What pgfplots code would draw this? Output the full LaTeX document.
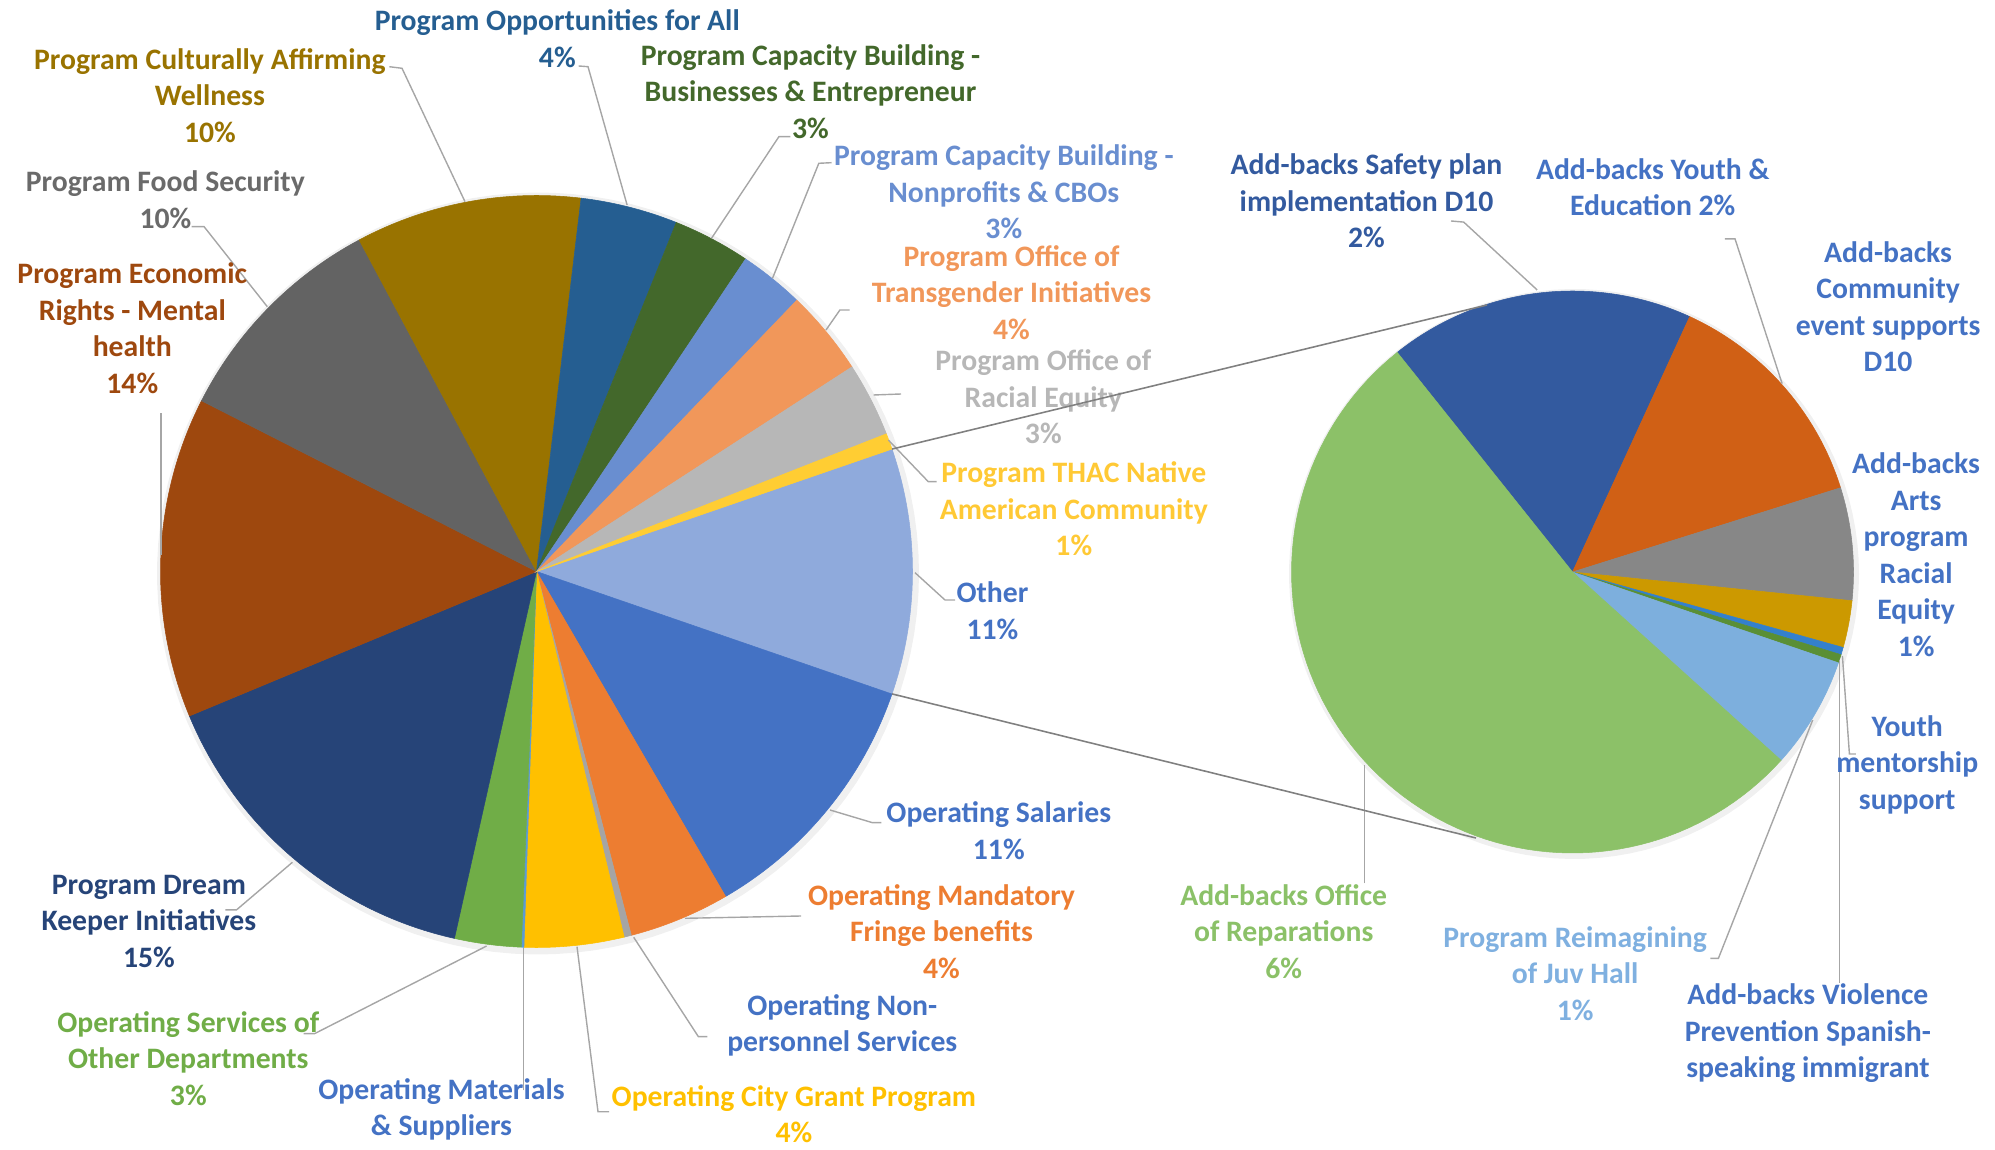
\documentclass[border=0pt]{standalone}
\usepackage{pgfplots}
\usepackage{pgfplotstable}
\pgfplotsset{compat=1.18}
\usepackage{fontspec}
\setmainfont{Carlito}

% main pie colours
\definecolor{cOther}{HTML}{8FAADC}
\definecolor{cSal}{HTML}{4472C4}
\definecolor{cFringe}{HTML}{ED7D31}
\definecolor{cNonPers}{HTML}{A5A5A5}
\definecolor{cGrant}{HTML}{FFC000}
\definecolor{cMat}{HTML}{5B9BD5}
\definecolor{cServ}{HTML}{70AD47}
\definecolor{cDream}{HTML}{264478}
\definecolor{cEcon}{HTML}{9E480E}
\definecolor{cFood}{HTML}{636363}
\definecolor{cCult}{HTML}{997300}
\definecolor{cOpp}{HTML}{255E91}
\definecolor{cCapBus}{HTML}{43682B}
\definecolor{cCapNP}{HTML}{698ED0}
\definecolor{cTrans}{HTML}{F1975A}
\definecolor{cRacial}{HTML}{B7B7B7}
\definecolor{cTHAC}{HTML}{FFCD33}
% second pie colours
\definecolor{cSafety}{HTML}{335A9F}
\definecolor{cYouth}{HTML}{D06015}
\definecolor{cComm}{HTML}{878787}
\definecolor{cArts}{HTML}{CC9900}
\definecolor{cMentor}{HTML}{3480CC}
\definecolor{cViol}{HTML}{5A8F35}
\definecolor{cReimag}{HTML}{7DAFDD}
\definecolor{cRepar}{HTML}{8CC168}
% label colours
\definecolor{lBlue}{HTML}{4472C4}
\definecolor{lTHAC}{HTML}{FFC935}
\definecolor{lFood}{HTML}{6A6A6A}
\definecolor{lReimag}{HTML}{7FB0E0}
\definecolor{lRepar}{HTML}{8BC168}
\definecolor{leadgray}{HTML}{A6A6A6}

\pgfplotstableread{
name value col
Other 10.56 cOther
Salaries 11.33 cSal
Fringe 4.33 cFringe
NonPersonnel 0.31 cNonPers
CityGrant 4.28 cGrant
Materials 0.11 cMat
Services 2.86 cServ
DreamKeeper 15.22 cDream
EconomicRights 13.78 cEcon
FoodSecurity 9.68 cFood
Culturally 9.71 cCult
Opportunities 4.17 cOpp
CapBusinesses 3.32 cCapBus
CapNonprofits 2.79 cCapNP
Transgender 3.67 cTrans
RacialEquity 3.19 cRacial
THAC 0.69 cTHAC
}\maindata

\pgfplotstableread{
name value col
SafetyPlan 1.855 cSafety
YouthEducation 1.405 cYouth
CommunityEvent 0.684 cComm
ArtsRacialEquity 0.285 cArts
YouthMentorship 0.045 cMentor
ViolencePrevention 0.051 cViol
ReimaginingJuvHall 0.681 cReimag
Reparations 5.553 cRepar
}\otherdata

% #1 table, #2 cx, #3 cy, #4 radius, #5 start angle (deg, counter-clockwise from east; slices run clockwise)
\newcommand\drawpie[5]{%
  \pgfplotstablegetrowsof{#1}\pgfmathtruncatemacro\pieN{\pgfplotsretval-1}%
  \def\piesum{0}%
  \pgfplotsforeachungrouped \i in {0,...,\pieN}{%
    \pgfplotstablegetelem{\i}{value}\of{#1}%
    \pgfmathsetmacro\piesum{\piesum+\pgfplotsretval}}%
  \def\pieang{#5}%
  \pgfplotsforeachungrouped \i in {0,...,\pieN}{%
    \pgfplotstablegetelem{\i}{value}\of{#1}\let\pieval\pgfplotsretval
    \pgfplotstablegetelem{\i}{col}\of{#1}\let\piecol\pgfplotsretval
    \pgfmathsetmacro\pieangb{\pieang-360*\pieval/\piesum}%
    \edef\piecmd{\noexpand\addplot[draw=\piecol,line width=0.15pt,fill=\piecol,domain=\pieangb:\pieang,samples=90,variable=\noexpand\t] ({#2+#4*cos(\noexpand\t)},{#3-#4*sin(\noexpand\t)}) -- (axis cs:#2,#3) -- cycle;}%
    \piecmd
    \global\let\pieang\pieangb
  }%
}

\begin{document}
\begin{tikzpicture}[
  lab/.style={align=center, inner sep=0pt, font=\fontsize{8.45}{10.4}\selectfont\bfseries},
]
\begin{axis}[
  width=19.95cm, height=11.5cm, scale only axis,
  xmin=0, xmax=1995, ymin=0, ymax=1150, y dir=reverse,
  hide axis, clip=false,
  leader/.style={leadgray, line width=0.4pt, mark=none},
]
\addplot[draw=none] coordinates {(0,0) (1995,1150)};

% soft shadows
\addplot[draw=none, fill=black, fill opacity=0.06, domain=0:360, samples=120, variable=\t] ({538+381*cos(\t)},{573.5-381*sin(\t)}) -- cycle;
\addplot[draw=none, fill=black, fill opacity=0.06, domain=0:360, samples=120, variable=\t] ({1574+285*cos(\t)},{574-285*sin(\t)}) -- cycle;

\drawpie{\maindata}{536.5}{571.5}{376}{19.0}
\drawpie{\otherdata}{1572.5}{572}{281}{128.6}

% leader lines (main pie)
\addplot[leader] coordinates {(578.7,66) (588,66.7) (627.1,205)};
\addplot[leader] coordinates {(389.3,66.7) (402,68.3) (465,201.7)};
\addplot[leader] coordinates {(790.3,136.7) (778.9,136.7) (711.5,238.3)};
\addplot[leader] coordinates {(831.5,162.7) (818.8,163.3) (772.5,278.3)};
\addplot[leader] coordinates {(849.6,310) (839.9,310) (826,330)};
\addplot[leader] coordinates {(901,394) (873.6,395)};
\addplot[leader] coordinates {(936.7,481.7) (928.3,481.7) (888.3,440)};
\addplot[leader] coordinates {(955,600) (945,600) (915,572.7)};
\addplot[leader] coordinates {(881.4,822.7) (872.5,822.7) (830,810)};
\addplot[leader] coordinates {(801,916) (685,918.3)};
\addplot[leader] coordinates {(707.3,1036.7) (698.4,1036.7) (633.7,937.3)};
\addplot[leader] coordinates {(609,1111.7) (598,1111.7) (577,946.7)};
\addplot[leader] coordinates {(523.2,1090.4) (523.2,948.4)};
\addplot[leader] coordinates {(303.6,1033.6) (314.7,1033.6) (486.6,946)};
\addplot[leader] coordinates {(225.4,909.8) (236.6,909.8) (292.4,862.3)};
\addplot[leader] coordinates {(161.2,413.3) (161.2,555)};
\addplot[leader] coordinates {(191.5,226.7) (204.1,226.7) (267.3,306.7)};
% leader lines (second pie)
\addplot[leader] coordinates {(1451,221) (1463.7,222.1) (1537.2,290)};
\addplot[leader] coordinates {(1724.8,238.9) (1735,238.9) (1782.1,383.6)};
\addplot[leader] coordinates {(1855.8,754) (1849.4,754) (1842.4,656)};
\addplot[leader] coordinates {(1839.7,983) (1839.7,660)};
\addplot[leader] coordinates {(1710.3,958.3) (1718.4,958.3) (1812.7,720)};
\addplot[leader] coordinates {(1364.4,883.3) (1364.4,765)};

% labels main pie
\node[lab, text=cOpp] at (axis cs:557.3,38.8) {Program Opportunities for All\\4\%};
\node[lab, text=cCult] at (axis cs:209.9,95.4) {Program Culturally Affirming\\Wellness\\10\%};
\node[lab, text=cCapBus] at (axis cs:810.5,91.6) {Program Capacity Building -\\Businesses \& Entrepreneur\\3\%};
\node[lab, text=cCapNP] at (axis cs:1003.8,192.1) {Program Capacity Building -\\Nonprofits \& CBOs\\3\%};
\node[lab, text=cTrans] at (axis cs:1011.5,292.6) {Program Office of\\Transgender Initiatives\\4\%};
\node[lab, text=cRacial] at (axis cs:1043.3,397) {Program Office of\\Racial Equity\\3\%};
\node[lab, text=lTHAC] at (axis cs:1073.8,508.9) {Program THAC Native\\American Community\\1\%};
\node[lab, text=lBlue] at (axis cs:992.4,610.7) {Other\\11\%};
\node[lab, text=lBlue] at (axis cs:998.8,830.8) {Operating Salaries\\11\%};
\node[lab, text=cFringe] at (axis cs:941.5,931.3) {Operating Mandatory\\Fringe benefits\\4\%};
\node[lab, text=lBlue] at (axis cs:842.3,1025.5) {Operating Non-\\personnel Services};
\node[lab, text=cGrant] at (axis cs:793.9,1114) {Operating City Grant Program\\4\%};
\node[lab, text=lBlue] at (axis cs:441.5,1109.4) {Operating Materials\\\& Suppliers};
\node[lab, text=cServ] at (axis cs:188.3,1058.5) {Operating Services of\\Other Departments\\3\%};
\node[lab, text=cDream] at (axis cs:148.9,921.1) {Program Dream\\Keeper Initiatives\\15\%};
\node[lab, text=cEcon] at (axis cs:132.3,328.3) {Program Economic\\Rights - Mental\\health\\14\%};
\node[lab, text=lFood] at (axis cs:165.4,199.7) {Program Food Security\\10\%};
% labels second pie
\node[lab, text=cSafety] at (axis cs:1366.5,201) {Add-backs Safety plan\\implementation D10\\2\%};
\node[lab, text=lBlue] at (axis cs:1652.7,187) {Add-backs Youth \&\\Education 2\%};
\node[lab, text=lBlue] at (axis cs:1888.1,306.6) {Add-backs\\Community\\event supports\\D10};
\node[lab, text=lBlue] at (axis cs:1916.1,554.7) {Add-backs\\Arts\\program\\Racial\\Equity\\1\%};
\node[lab, text=lBlue] at (axis cs:1907.2,764.7) {Youth\\mentorship\\support};
\node[lab, text=lBlue] at (axis cs:1807.9,1033.1) {Add-backs Violence\\Prevention Spanish-\\speaking immigrant};
\node[lab, text=lReimag] at (axis cs:1575.1,973.3) {Program Reimagining\\of Juv Hall\\1\%};
\node[lab, text=lRepar] at (axis cs:1283.7,931.3) {Add-backs Office\\of Reparations\\6\%};

% connector lines between the pies
\addplot[color=gray, line width=0.45pt] coordinates {(892,449.1) (1487,305)};
\addplot[color=gray, line width=0.45pt] coordinates {(892,693.9) (1476,838)};
\end{axis}
\end{tikzpicture}
\end{document}
